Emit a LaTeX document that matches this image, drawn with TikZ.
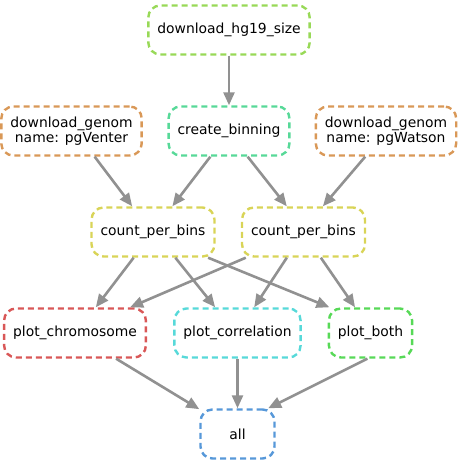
\documentclass[tikz,border=0pt]{standalone}
\usepackage{fontspec}
\setmainfont{DejaVu Sans}
\usepackage{xcolor}
\usetikzlibrary{arrows.meta}
\definecolor{edgegray}{RGB}{145,145,145}
\definecolor{rulegreen}{RGB}{152,217,87}
\definecolor{ruleteal}{RGB}{87,217,152}
\definecolor{ruleorange}{RGB}{217,152,87}
\definecolor{ruleyellow}{RGB}{217,212,87}
\definecolor{rulered}{RGB}{217,87,87}
\definecolor{rulecyan}{RGB}{87,217,217}
\definecolor{rulelime}{RGB}{87,217,87}
\definecolor{ruleblue}{RGB}{87,152,217}

\begin{document}
\begin{tikzpicture}[x=1pt, y=1pt,
    rule/.style={draw, rectangle, rounded corners=12pt, dash pattern=on 6pt off 4pt,
        line width=2.4pt, minimum height=49pt, inner xsep=9pt, align=center,
        font=\fontsize{13.9}{15}\selectfont},
    dep/.style={-{Triangle[length=13pt, width=11pt]}, draw=edgegray, fill=edgegray, line width=2.6pt}]
    \useasboundingbox (0,0) rectangle (458,463);
    % Rule nodes
    \node[rule, draw=rulegreen] (hg19) at (229,433) {download\_hg19\_size};
    \node[rule, draw=ruleorange] (venter) at (71.5,332) {download\_genom\\name: pgVenter};
    \node[rule, draw=ruleteal] (binning) at (229,332) {create\_binning};
    \node[rule, draw=ruleorange] (watson) at (386,332) {download\_genom\\name: pgWatson};
    \node[rule, draw=ruleyellow] (count1) at (153,231) {count\_per\_bins};
    \node[rule, draw=ruleyellow] (count2) at (303.5,231) {count\_per\_bins};
    \node[rule, draw=rulered] (chrom) at (75,130) {plot\_chromosome};
    \node[rule, draw=rulecyan] (corr) at (237.5,130) {plot\_correlation};
    \node[rule, draw=rulelime] (both) at (370.5,130) {plot\_both};
    \node[rule, draw=ruleblue, minimum width=74pt] (all) at (237.5,29) {all};

    % Dependencies
    \draw[dep] (hg19.south) -- (binning.north);
    \draw[dep] (venter.-48) -- (count1.129);
    \draw[dep] (binning.-126) -- (count1.53);
    \draw[dep] (binning.-54) -- (count2.123);
    \draw[dep] (watson.-129) -- (count2.53);
    \draw[dep] (count1.-127) -- (chrom.51);
    \draw[dep] (count2.-156) -- (chrom.25);
    \draw[dep] (count1.-49) -- (corr.131);
    \draw[dep] (count2.-123) -- (corr.57);
    \draw[dep] (count1.-25) -- (both.148);
    \draw[dep] (count2.-56) -- (both.121);
    \draw[dep] (chrom.-32) -- (all.147);
    \draw[dep] (corr.south) -- (all.north);
    \draw[dep] (both.-97) -- (all.40);
\end{tikzpicture}
\end{document}
